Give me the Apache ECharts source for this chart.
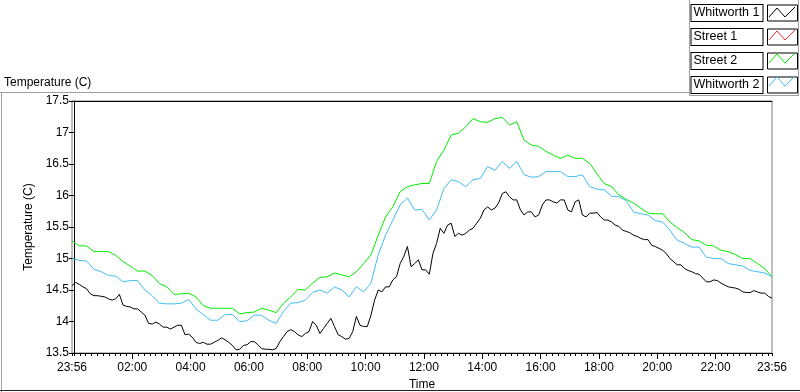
<!DOCTYPE html>
<html>
<head>
<meta charset="utf-8">
<title>Temperature (C)</title>
<script src="https://cdn.jsdelivr.net/npm/echarts@6/dist/echarts.min.js"></script>
<style>
  html, body { margin: 0; padding: 0; background: #fff; }
  #chart { width: 800px; height: 392px; }
</style>
</head>
<body>
<div id="chart"></div>
<script>
// series names, in legend order
var seriesNames = ['Whitworth 1', 'Street 1', 'Street 2', 'Whitworth 2'];
var seriesColors = ['#000000', '#ff2a2a', '#00ee00', '#42bdf5'];

// all readings start at 23:56 (minutes from midnight, -4 = 23:56 previous day)
var startMinute = -4;
// sample spacing in minutes for each series
var seriesSteps = [7.5, 15, 15, 15];

// Whitworth 1 (black), every 7.5 minutes
var whitworth1 = [
  14.57, 14.62, 14.59, 14.55, 14.52, 14.44, 14.41, 14.41, 14.40, 14.39,
  14.36, 14.34, 14.36, 14.43, 14.26, 14.24, 14.23, 14.20, 14.20, 14.15,
  14.10, 13.97, 13.96, 13.99, 13.96, 13.91, 13.91, 13.88, 13.91, 13.94,
  13.94, 13.79, 13.80, 13.75, 13.67, 13.65, 13.67, 13.64, 13.64, 13.67,
  13.70, 13.74, 13.71, 13.67, 13.62, 13.55, 13.56, 13.62, 13.63, 13.68,
  13.68, 13.63, 13.57, 13.56, 13.56, 13.55, 13.57, 13.68, 13.76, 13.84,
  13.87, 13.84, 13.79, 13.76, 13.81, 13.84, 14.00, 13.94, 13.81, 13.89,
  13.97, 14.05, 13.92, 13.79, 13.76, 13.72, 13.73, 13.84, 14.08, 13.94,
  13.92, 13.92, 14.10, 14.34, 14.50, 14.47, 14.55, 14.55, 14.66, 14.71,
  14.92, 15.03, 15.19, 14.87, 14.92, 14.98, 14.82, 14.82, 14.75, 15.08,
  15.24, 15.48, 15.40, 15.53, 15.56, 15.35, 15.40, 15.37, 15.40, 15.45,
  15.48, 15.56, 15.64, 15.77, 15.82, 15.77, 15.80, 15.88, 16.03, 16.06,
  15.98, 15.93, 15.93, 15.77, 15.69, 15.74, 15.74, 15.66, 15.69, 15.85,
  15.93, 15.93, 15.90, 15.88, 15.93, 15.93, 15.77, 15.74, 15.90, 15.93,
  15.69, 15.66, 15.72, 15.72, 15.73, 15.66, 15.61, 15.61, 15.58, 15.53,
  15.51, 15.45, 15.43, 15.41, 15.37, 15.35, 15.32, 15.30, 15.30, 15.21,
  15.19, 15.16, 15.13, 15.08, 15.00, 14.95, 14.90, 14.90, 14.84, 14.81,
  14.79, 14.76, 14.75, 14.69, 14.63, 14.63, 14.66, 14.65, 14.61, 14.58,
  14.55, 14.54, 14.53, 14.51, 14.47, 14.46, 14.46, 14.49, 14.47, 14.45,
  14.45, 14.40, 14.37
];

// Street 1 (red) - no readings visible on the plot
var street1 = [];

// Street 2 (green), every 15 minutes
var street2 = [
  15.28, 15.20, 15.20, 15.11, 15.11, 15.11, 15.05, 14.95, 14.88, 14.80,
  14.80, 14.73, 14.60, 14.55, 14.43, 14.44, 14.45, 14.39, 14.25, 14.21,
  14.21, 14.21, 14.21, 14.12, 14.14, 14.15, 14.21, 14.18, 14.14, 14.29,
  14.39, 14.51, 14.50, 14.61, 14.70, 14.71, 14.77, 14.74, 14.71, 14.79,
  14.92, 15.06, 15.37, 15.66, 15.82, 16.06, 16.14, 16.17, 16.19, 16.19,
  16.54, 16.72, 16.96, 16.99, 17.09, 17.22, 17.17, 17.16, 17.22, 17.24,
  17.12, 17.17, 16.88, 16.80, 16.78, 16.70, 16.64, 16.59, 16.64, 16.59,
  16.59, 16.51, 16.34, 16.19, 16.14, 16.01, 15.94, 15.88, 15.80, 15.72,
  15.71, 15.71, 15.58, 15.49, 15.41, 15.30, 15.28, 15.21, 15.20, 15.13,
  15.11, 15.06, 15.00, 15.00, 14.92, 14.84, 14.71
];

// Whitworth 2 (blue), every 15 minutes
var whitworth2 = [
  15.00, 14.97, 14.96, 14.83, 14.79, 14.73, 14.72, 14.63, 14.65, 14.65,
  14.50, 14.41, 14.29, 14.28, 14.28, 14.29, 14.35, 14.20, 14.11, 14.02,
  14.02, 14.11, 14.11, 14.00, 14.01, 14.10, 14.10, 14.02, 13.97, 14.16,
  14.29, 14.30, 14.34, 14.46, 14.50, 14.45, 14.55, 14.50, 14.39, 14.55,
  14.47, 14.61, 15.06, 15.37, 15.61, 15.85, 15.96, 15.77, 15.78, 15.61,
  15.77, 16.11, 16.25, 16.22, 16.14, 16.25, 16.27, 16.46, 16.40, 16.54,
  16.43, 16.54, 16.33, 16.29, 16.30, 16.38, 16.38, 16.38, 16.30, 16.30,
  16.33, 16.14, 16.10, 16.09, 15.99, 15.98, 15.92, 15.74, 15.71, 15.69,
  15.60, 15.58, 15.45, 15.29, 15.24, 15.18, 15.18, 15.02, 15.00, 15.00,
  14.92, 14.90, 14.88, 14.81, 14.79, 14.77, 14.71
];

// x axis tick labels (minutes from midnight)
var labelMinutes = [-4, 120, 240, 360, 480, 600, 720, 840, 960, 1080, 1200, 1320, 1436];
var majorTickMinutes = [120, 240, 360, 480, 600, 720, 840, 960, 1080, 1200, 1320];

var FONT = '"Liberation Sans", Arial, sans-serif';

function toPairs(values, step) {
  return values.map(function (v, i) {
    return [startMinute + i * step, v];
  });
}

function fmtTime(m) {
  m = (Math.round(m) + 1440) % 1440;
  var h = Math.floor(m / 60), mm = m % 60;
  return (h < 10 ? '0' : '') + h + ':' + (mm < 10 ? '0' : '') + mm;
}

// small ticks every 12 minutes, plus the two ends
var minorTickMinutes = [-4];
for (var m = 0; m <= 1428; m += 12) {
  if (majorTickMinutes.indexOf(m) < 0) minorTickMinutes.push(m);
}
minorTickMinutes.push(1436);

var chart = echarts.init(document.getElementById('chart'), null, { renderer: 'canvas' });

var seriesData = [whitworth1, street1, street2, whitworth2];

// legend icon zig-zags (drawn over the white icon boxes)
var zigzags = seriesNames.map(function (name, i) {
  var y0 = 4 + i * 23;
  return {
    type: 'polyline',
    silent: true,
    z: 100,
    shape: { points: [[769, y0 + 13], [777, y0 + 4], [785, y0 + 13], [795, y0 + 3]] },
    style: { stroke: seriesColors[i], lineWidth: 1, fill: null }
  };
});

var option = {
  animation: false,
  backgroundColor: '#fff',
  textStyle: { fontFamily: FONT },
  title: {
    text: 'Temperature (C)',
    left: 4,
    top: 77,
    padding: 0,
    textStyle: { fontSize: 12, fontWeight: 'normal', color: '#000', fontFamily: FONT }
  },
  legend: {
    data: seriesNames,
    orient: 'vertical',
    right: 2,
    top: 4,
    padding: 0,
    align: 'right',
    itemWidth: 30,
    itemHeight: 16,
    itemGap: 6,
    icon: 'rect',
    selectedMode: false,
    itemStyle: { color: '#fff', borderColor: '#000', borderWidth: 1 },
    formatter: '{n|{name}}',
    textStyle: {
      fontSize: 12.5,
      lineHeight: 14,
      color: '#000',
      fontFamily: FONT,
      backgroundColor: '#fff',
      borderColor: '#000',
      borderWidth: 1,
      padding: [1, 2, 1, 2],
      width: 67,
      rich: {
        n: { width: 67, lineHeight: 14, align: 'left', fontSize: 12.5, color: '#000', fontFamily: FONT }
      }
    }
  },
  grid: {
    left: 72,
    right: 28,
    top: 101,
    bottom: 39,
    outerBoundsMode: 'none',
    containLabel: false,
    show: true,
    backgroundColor: '#fff',
    borderColor: '#808080',
    borderWidth: 1
  },
  xAxis: [{
    type: 'value',
    min: -4,
    max: 1436,
    name: 'Time',
    nameLocation: 'middle',
    nameGap: 26,
    nameTextStyle: { fontSize: 12, color: '#000', fontFamily: FONT },
    axisLine: { show: true, lineStyle: { color: '#000', width: 1 } },
    axisTick: { show: true, customValues: minorTickMinutes, length: 3, lineStyle: { color: '#000' } },
    axisLabel: {
      customValues: labelMinutes,
      formatter: fmtTime,
      margin: 9,
      fontSize: 12,
      color: '#000',
      fontFamily: FONT,
      hideOverlap: false
    },
    splitLine: { show: false }
  }, {
    type: 'value',
    min: -4,
    max: 1436,
    position: 'bottom',
    axisLine: { show: false },
    axisTick: { show: true, customValues: majorTickMinutes, length: 6, lineStyle: { color: '#000' } },
    axisLabel: { show: false },
    splitLine: { show: false }
  }, {
    type: 'value',
    min: -4,
    max: 1436,
    position: 'top',
    axisLine: { show: true, lineStyle: { color: '#000', width: 1 } },
    axisTick: { show: false },
    axisLabel: { show: false },
    splitLine: { show: false }
  }],
  yAxis: {
    type: 'value',
    min: 13.5,
    max: 17.5,
    interval: 0.5,
    name: 'Temperature (C)',
    nameLocation: 'middle',
    nameRotate: 90,
    nameGap: 28,
    nameTextStyle: { fontSize: 12, color: '#000', fontFamily: FONT },
    axisLine: { show: true, lineStyle: { color: '#000', width: 1 } },
    axisTick: { show: true, length: 5, lineStyle: { color: '#000' } },
    axisLabel: { margin: 3, fontSize: 12, color: '#000', fontFamily: FONT },
    splitLine: { show: false }
  },
  series: seriesNames.map(function (name, i) {
    return {
      name: name,
      type: 'line',
      xAxisIndex: 0,
      data: toPairs(seriesData[i], seriesSteps[i]),
      showSymbol: false,
      symbol: 'none',
      color: seriesColors[i],
      lineStyle: { color: seriesColors[i], width: 1 },
      z: i === 0 ? 5 : 3
    };
  }),
  graphic: [
    // panel frame around the plot
    { type: 'line', silent: true, shape: { x1: 0, y1: 92.5, x2: 690, y2: 92.5 }, style: { stroke: '#a0a0a0', lineWidth: 1 } },
    { type: 'line', silent: true, shape: { x1: 1.5, y1: 92, x2: 1.5, y2: 392 }, style: { stroke: '#a0a0a0', lineWidth: 1 } },
    { type: 'line', silent: true, shape: { x1: 0, y1: 390.5, x2: 800, y2: 390.5 }, style: { stroke: '#202020', lineWidth: 1 } },
    // legend frame
    { type: 'line', silent: true, shape: { x1: 689.5, y1: 0, x2: 689.5, y2: 95.5 }, style: { stroke: '#a0a0a0', lineWidth: 1 } },
    { type: 'line', silent: true, shape: { x1: 689, y1: 95.5, x2: 799, y2: 95.5 }, style: { stroke: '#a0a0a0', lineWidth: 1 } },
    { type: 'line', silent: true, shape: { x1: 798.5, y1: 0, x2: 798.5, y2: 96 }, style: { stroke: '#a0a0a0', lineWidth: 1 } }
  ].concat(zigzags)
};

chart.setOption(option);
</script>
</body>
</html>
